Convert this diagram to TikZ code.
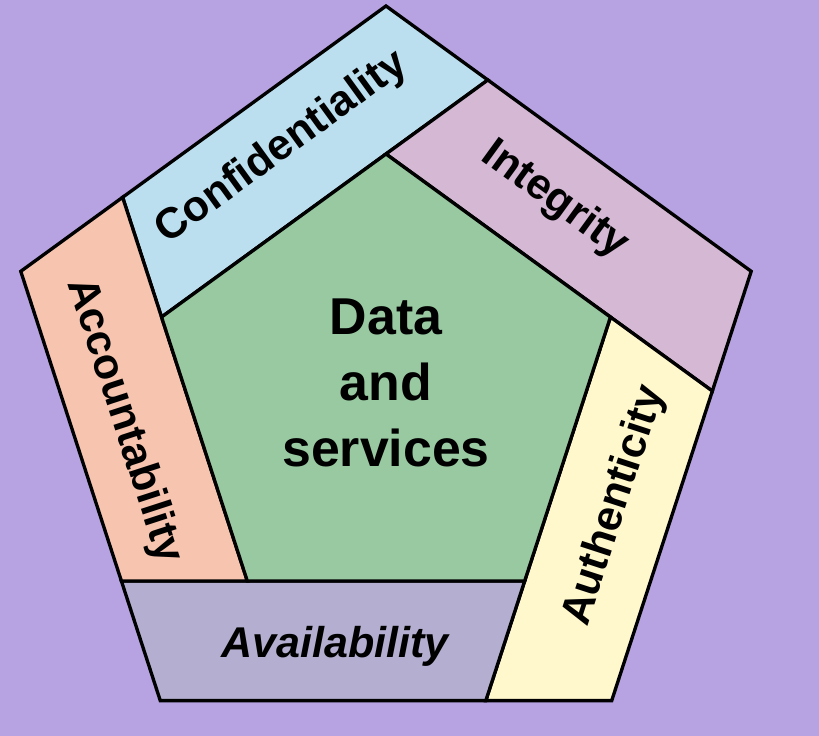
\documentclass[tikz,border=0pt]{standalone}
\usepackage{fontspec}
\setmainfont{Liberation Sans}

% Farben
\definecolor{bgpurple}{RGB}{183,163,225}
\definecolor{confblue}{RGB}{187,223,238}
\definecolor{integmauve}{RGB}{212,184,212}
\definecolor{authyellow}{RGB}{255,248,205}
\definecolor{availgrey}{RGB}{180,175,208}
\definecolor{accsalmon}{RGB}{246,196,175}
\definecolor{datagreen}{RGB}{152,201,161}

\tikzset{
  band/.style={draw=black, line width=1.9pt, line join=miter},
  bandlabel/.style={font=\fontsize{24.5}{28}\selectfont\bfseries},
}

\begin{document}
\begin{tikzpicture}[x=0.02cm, y=0.02cm]
  % Hintergrund
  \fill[bgpurple] (-386,-346) rectangle (433,390);
  \useasboundingbox (-386,-346) rectangle (433,390);

  % Ecken aussen (o) und innen (i)
  \foreach \i/\w in {1/90, 2/18, 3/-54, 4/-126, 5/162} {
    \coordinate (o\i) at (\w:384);
    \coordinate (i\i) at (\w:236);
  }

  % verlaengerte Innenkanten treffen den Rand
  \coordinate (p1) at (intersection of i5--i1 and o1--o2);
  \coordinate (p2) at (intersection of i1--i2 and o2--o3);
  \coordinate (p3) at (intersection of i2--i3 and o3--o4);
  \coordinate (p4) at (intersection of i3--i4 and o4--o5);
  \coordinate (p5) at (intersection of i4--i5 and o5--o1);

  % Baender
  \draw[band, fill=confblue] (p5) -- (o1) -- (p1) -- (i1) -- (i5) -- cycle;
  \draw[band, fill=integmauve] (p1) -- (o2) -- (p2) -- (i2) -- (i1) -- cycle;
  \draw[band, fill=authyellow] (p2) -- (o3) -- (p3) -- (i3) -- (i2) -- cycle;
  \draw[band, fill=availgrey] (p3) -- (o4) -- (p4) -- (i4) -- (i3) -- cycle;
  \draw[band, fill=accsalmon] (p4) -- (o5) -- (p5) -- (i5) -- (i4) -- cycle;

  % Kern
  \draw[band, fill=datagreen] (i1) -- (i2) -- (i3) -- (i4) -- (i5) -- cycle;

  % Beschriftungen
  \node[bandlabel, rotate=36] (conf) at (-104,242) {Confidentiality};
  \node[bandlabel, rotate=-36] (integ) at (169,190) {Integrity};
  \node[bandlabel, rotate=72] (auth) at (229,-116) {Authenticity};
  \node[bandlabel, font=\fontsize{24.5}{28}\selectfont\bfseries\itshape] (avail) at (-51,-256) {Availability};
  \node[bandlabel, rotate=-72] (acc) at (-262,-31) {Accountability};
  \node[align=center, font=\fontsize{29.5}{37.5}\selectfont\bfseries] (core) at (0,7) {Data\\and\\services};
\end{tikzpicture}
\end{document}
